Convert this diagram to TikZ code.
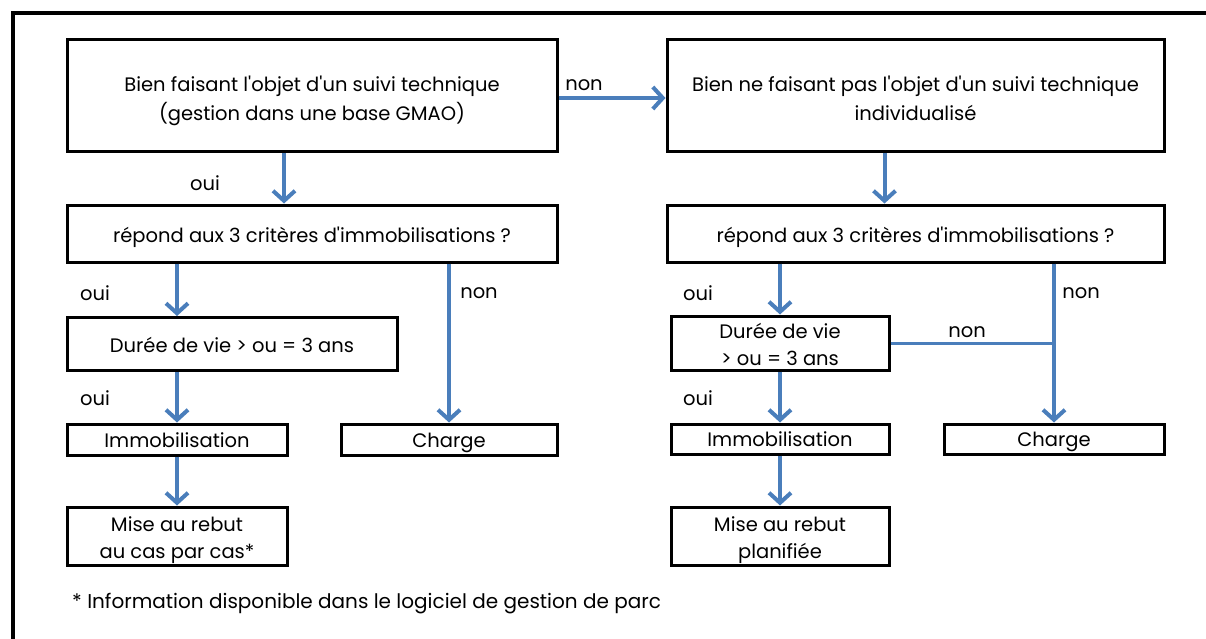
\documentclass[tikz,border=0pt]{standalone}
\usepackage{fontspec}
\setmainfont{Poppins}[Ligatures=TeXOff]
\usetikzlibrary{arrows.meta}
\definecolor{arrowblue}{RGB}{74,126,187}
\newcommand\boxtxt[3]{\raisebox{-#1}[\height][\depth]{\fontsize{19.5}{#2}\selectfont\begin{tabular}{@{}c@{}}#3\end{tabular}}}
\tikzset{
  box/.style={draw=black, line width=3pt, rectangle, align=center, inner sep=0pt, font=\fontsize{19.5}{29}\selectfont},
  lbl/.style={font=\fontsize{19.5}{22}\selectfont, inner sep=0pt},
  arr/.style={draw=arrowblue, line width=4pt, -{Straight Barb[length=10pt,width=22pt,line width=4pt]}},
  plain/.style={draw=arrowblue, line width=3pt},
}
\begin{document}
\begin{tikzpicture}[x=1pt,y=-1pt]
\useasboundingbox (0,0) rectangle (1206,639);
\draw[line width=4pt] (13,639) -- (13,13) -- (1206,13);
% left column
\node[box, minimum width=490pt, minimum height=112pt] (a) at (312,96) {\boxtxt{4.7pt}{29}{Bien faisant l'objet d'un suivi technique\\(gestion dans une base GMAO)}};
\node[box, minimum width=490pt, minimum height=57pt] (c) at (312,233.5) {\boxtxt{3.2pt}{29}{répond aux 3 critères d'immobilisations ?}};
\node[box, minimum width=330pt, minimum height=53pt] (e) at (232,344) {\boxtxt{2.5pt}{29}{Durée de vie > ou = 3 ans}};
\node[box, minimum width=220pt, minimum height=31pt] (f) at (177,439.5) {\boxtxt{2pt}{29}{Immobilisation}};
\node[box, minimum width=216pt, minimum height=31pt] (chl) at (449,439.5) {\boxtxt{2pt}{29}{Charge}};
\node[box, minimum width=220pt, minimum height=58pt] (g) at (177,536) {\boxtxt{3.2pt}{27}{Mise au rebut\\au cas par cas*}};
% right column
\node[box, minimum width=497pt, minimum height=112pt] (b) at (915.5,96) {\boxtxt{4.7pt}{29}{Bien ne faisant pas l'objet d'un suivi technique\\individualisé}};
\node[box, minimum width=497pt, minimum height=57pt] (d) at (915.5,233.5) {\boxtxt{3.2pt}{29}{répond aux 3 critères d'immobilisations ?}};
\node[box, minimum width=218pt, minimum height=54pt] (h) at (780,343) {\boxtxt{3.2pt}{27}{Durée de vie\\> ou = 3 ans}};
\node[box, minimum width=218pt, minimum height=30pt] (i) at (780,439) {\boxtxt{2pt}{29}{Immobilisation}};
\node[box, minimum width=220pt, minimum height=30pt] (chr) at (1054,439) {\boxtxt{2pt}{29}{Charge}};
\node[box, minimum width=218pt, minimum height=58pt] (j) at (780,536) {\boxtxt{3.2pt}{27}{Mise au rebut\\planifiée}};
% footnote
\node[lbl, anchor=west, font=\fontsize{20}{22}\selectfont] (fn) at (72,604) {* Information disponible dans le logiciel de gestion de parc};
% connectors left
\draw[arr] (a.east |- 0,98) -- (b.west |- 0,98);
\draw[arr] ([xshift=-28pt]a.south) -- ([xshift=-28pt]c.north);
\draw[arr] (c.south -| f.north) -- (e.north -| f.north);
\draw[arr] (e.south -| f.north) -- (f.north);
\draw[arr] (f.south) -- (g.north);
\draw[arr] (c.south -| chl.north) -- (chl.north);
% connectors right
\draw[arr] ([xshift=-31pt]b.south) -- ([xshift=-31pt]d.north);
\draw[arr] (d.south -| h.north) -- (h.north);
\draw[arr] (h.south) -- (i.north);
\draw[arr] (i.south) -- (j.north);
\draw[arr] (d.south -| chr.north) -- (chr.north);
\coordinate (m) at (h.east -| chr.north);
\draw[plain] (h.east) -- (m);
% labels
\node[lbl] (l1) at (584,85) {non};
\node[lbl] (l2) at (205,183) {oui};
\node[lbl] (l3) at (95,293) {oui};
\node[lbl] (l4) at (479,293) {non};
\node[lbl] (l5) at (95,398) {oui};
\node[lbl] (l6) at (698,293) {oui};
\node[lbl] (l7) at (1081,293) {non};
\node[lbl] (l8) at (967,332) {non};
\node[lbl] (l9) at (698,398) {oui};
\end{tikzpicture}
\end{document}
